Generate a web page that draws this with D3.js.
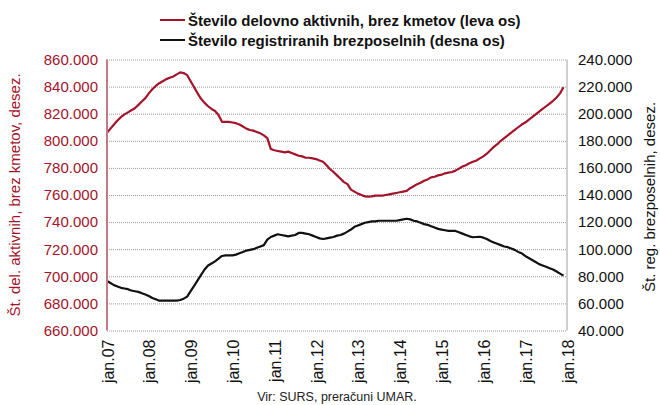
<!DOCTYPE html>
<html>
<head>
<meta charset="utf-8">
<script src="https://cdn.jsdelivr.net/npm/d3@7"></script>
<style>
    body { margin: 0; background: #fff; }
    svg { font-family: "Liberation Sans", Arial, sans-serif; }
    .legend-text { font-family: "Liberation Sans Narrow", "Liberation Sans", sans-serif; font-weight: bold; font-size: 15px; fill: #111; }
    .tick-label { font-size: 15px; }
</style>
</head>
<body>
<svg id="chart"></svg>
<script>
// Months from jan.07, monthly values in thousands
const yearLabels = ['jan.07', 'jan.08', 'jan.09', 'jan.10', 'jan.11', 'jan.12',
    'jan.13', 'jan.14', 'jan.15', 'jan.16', 'jan.17', 'jan.18'];

// Število delovno aktivnih, brez kmetov (leva os), thousands
const activeValues = [
    806, 809, 812, 815, 817.5, 819.5, 821, 822.5, 824, 826.5, 829, 831.5,
    835, 838, 840.5, 842.5, 844, 845.5, 846.5, 847.5, 849, 850.5, 850, 848.5,
    844, 839.5, 835, 831, 828, 825.5, 823.5, 822, 819, 814, 814, 814,
    813.5, 813, 812, 810.5, 809, 808, 807.5, 806.5, 805.5, 804, 802, 794,
    793, 792.5, 792, 791.5, 792, 791, 790, 789, 788.5, 787.5, 787.5, 787,
    786.5, 785.5, 784.5, 782, 779, 777, 774.5, 772, 769.5, 768, 764, 762.5,
    761, 760, 759, 758.8, 759, 759.5, 759.5, 759.5, 760, 760.5, 761, 761.5,
    762, 762.5, 763, 765, 766.5, 768, 769, 770.5, 771.5, 773, 773.5, 774.5,
    775, 776, 776.5, 777, 778, 779.5, 781, 782, 783.5, 784.5, 785.5, 787,
    788.5, 790.5, 793, 795.5, 797.5, 800, 802, 804, 806, 808, 810, 812,
    813.5, 815.5, 817.5, 819.5, 821.5, 823.5, 825.5, 827.5, 829.5, 832, 835, 839.5
];

// Število registriranih brezposelnih (desna os), thousands
const unemployedValues = [
    76.5, 75, 73.5, 72.5, 71.5, 71, 70.5, 69.5, 69, 68.5, 67.5, 66.5,
    65.5, 64, 63, 62, 62, 62, 62, 62, 62, 62.5, 63.5, 65,
    69, 73, 77, 81, 85, 88, 89.5, 91, 93, 95, 95.5, 95.5,
    95.5, 96, 97, 98, 99, 99.5, 100, 101, 102, 103, 107, 109,
    110, 111, 110.5, 110, 109.5, 110, 110.5, 112, 112, 111.5, 111, 110,
    109, 108, 107.5, 108, 108.5, 109, 110, 110.5, 111.5, 113, 114.5, 116.5,
    117.5, 118.5, 119.5, 120, 120.5, 120.5, 121, 121, 121, 121, 121, 121,
    121.5, 122, 122.5, 122, 121, 120.5, 119.5, 118.5, 118, 117, 116, 115,
    114.5, 114, 113.5, 113.5, 113.5, 112.5, 111.5, 110.5, 109.5, 108.8, 109, 109.2,
    108.5, 107.5, 106, 105, 104, 103, 102, 101.5, 100.5, 99.5, 98, 97,
    95, 93.5, 92, 90.5, 89, 88, 87, 86, 85, 83.5, 82, 80.5
];

const leftTicks = [660, 680, 700, 720, 740, 760, 780, 800, 820, 840, 860];
const rightTicks = [40, 60, 80, 100, 120, 140, 160, 180, 200, 220, 240];

const RED = '#a3142b';
const W = 660, H = 405;
const margin = { left: 107, right: 93, top: 59.5, bottom: 74.5 };
const innerW = W - margin.left - margin.right;
const innerH = H - margin.top - margin.bottom;

const svg = d3.select('#chart').attr('width', W).attr('height', H);
const g = svg.append('g').attr('transform', `translate(${margin.left},${margin.top})`);

const x = d3.scaleLinear().domain([0, 132]).range([0, innerW]);
const yLeft = d3.scaleLinear().domain([660, 860]).range([innerH, 0]);
const yRight = d3.scaleLinear().domain([40, 240]).range([innerH, 0]);

const fmt = v => d3.format(',')(v * 1000).replace(/,/g, '.');

// Gridlines
g.append('g')
    .call(d3.axisLeft(yLeft).tickValues(leftTicks).tickSize(-innerW).tickFormat(''))
    .call(s => s.select('.domain').remove())
    .call(s => s.selectAll('line')
        .attr('stroke', '#9a9a9a')
        .attr('stroke-width', 1)
        .attr('stroke-dasharray', '1,1'));

// Right border
g.append('line')
    .attr('x1', innerW).attr('x2', innerW)
    .attr('y1', 0).attr('y2', innerH)
    .attr('stroke', '#a0a0a0').attr('stroke-width', 1);

// Left axis labels
g.append('g')
    .call(d3.axisLeft(yLeft).tickValues(leftTicks).tickSize(0).tickPadding(9).tickFormat(fmt))
    .call(s => s.select('.domain').remove())
    .call(s => s.selectAll('text').attr('class', 'tick-label').attr('fill', RED));

// Right axis labels
g.append('g')
    .attr('transform', `translate(${innerW},0)`)
    .call(d3.axisRight(yRight).tickValues(rightTicks).tickSize(0).tickPadding(11).tickFormat(fmt))
    .call(s => s.select('.domain').remove())
    .call(s => s.selectAll('text').attr('class', 'tick-label').attr('fill', '#111'));

// Bottom axis labels, rotated
g.append('g')
    .attr('transform', `translate(0,${innerH})`)
    .call(d3.axisBottom(x).tickValues(d3.range(0, 133, 12)).tickSize(0)
        .tickFormat((d, i) => yearLabels[i]))
    .call(s => s.select('.domain').remove())
    .call(s => s.selectAll('text')
        .attr('class', 'tick-label')
        .style('font-size', '16px')
        .attr('fill', '#111')
        .attr('text-anchor', 'end')
        .attr('dy', null)
        .attr('y', 0)
        .attr('transform', 'translate(6,9) rotate(-90)'));

// Lines
const lineLeft = d3.line().x((d, i) => x(i)).y(d => yLeft(d));
const lineRight = d3.line().x((d, i) => x(i)).y(d => yRight(d));

g.append('path')
    .datum(unemployedValues)
    .attr('d', lineRight)
    .attr('fill', 'none')
    .attr('stroke', '#111')
    .attr('stroke-width', 2.2)
    .attr('stroke-linejoin', 'round');

g.append('path')
    .datum(activeValues)
    .attr('d', lineLeft)
    .attr('fill', 'none')
    .attr('stroke', RED)
    .attr('stroke-width', 2.2)
    .attr('stroke-linejoin', 'round');

// Left axis line
g.append('line')
    .attr('x1', 0).attr('x2', 0)
    .attr('y1', 0).attr('y2', innerH)
    .attr('stroke', '#c27a86').attr('stroke-width', 2);

// Axis titles
svg.append('text')
    .attr('transform', `translate(20,${margin.top + innerH / 2}) rotate(-90)`)
    .attr('text-anchor', 'middle')
    .attr('fill', RED)
    .style('font-size', '15px')
    .text('Št. del. aktivnih, brez kmetov, desez.');

svg.append('text')
    .attr('transform', `translate(655,${margin.top + innerH / 2 + 2}) rotate(-90)`)
    .attr('text-anchor', 'middle')
    .attr('fill', '#111')
    .style('font-size', '15px')
    .text('Št. reg. brezposelnih, desez.');

// Legend
const legendItems = [
    { label: 'Število delovno aktivnih, brez kmetov (leva os)', color: RED },
    { label: 'Število registriranih brezposelnih (desna os)', color: '#111' }
];
const legend = svg.append('g').attr('transform', 'translate(160,20)');
legendItems.forEach((item, i) => {
    const row = legend.append('g').attr('transform', `translate(0,${i * 20})`);
    row.append('line')
        .attr('x1', 0).attr('x2', 25)
        .attr('stroke', item.color).attr('stroke-width', 2);
    row.append('text')
        .attr('class', 'legend-text')
        .attr('x', 28).attr('y', 5.5)
        .text(item.label);
});

// Source
svg.append('text')
    .attr('x', 337).attr('y', 401)
    .attr('text-anchor', 'middle')
    .attr('fill', '#222')
    .style('font-size', '12.5px')
    .style('font-family', '"Liberation Sans Narrow", "Liberation Sans", sans-serif')
    .text('Vir: SURS, preračuni UMAR.');
</script>
</body>
</html>
